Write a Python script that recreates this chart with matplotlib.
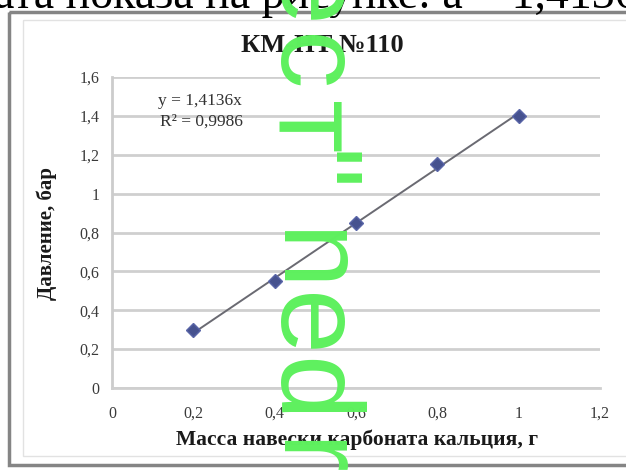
import numpy as np
import matplotlib.pyplot as plt
from matplotlib.patches import Rectangle

# values
mass = [0.2, 0.4, 0.6, 0.8, 1.0]
pressure = [0.30, 0.55, 0.85, 1.15, 1.40]

x_ticks = [0, 0.2, 0.4, 0.6, 0.8, 1.0, 1.2]
x_labels = ['0', '0,2', '0,4', '0,6', '0,8', '1', '1,2']
y_ticks = [0, 0.2, 0.4, 0.6, 0.8, 1.0, 1.2, 1.4, 1.6]
y_labels = ['0', '0,2', '0,4', '0,6', '0,8', '1', '1,2', '1,4', '1,6']

title = 'КМ-НТ №110'
x_title = 'Масса навески карбоната кальция, г'
y_title = 'Давление, бар'
eq_text = 'y = 1,4136x'
r2_text = 'R² = 0,9986'
page_text = 'ата показа на рисунке: а = 1,4136'
stamp_chars = ['е', 'с', 'т', '"', 'n', 'e', 'd', 'r']

SERIF = 'Liberation Serif'
W, H = 626, 470

fig = plt.figure(figsize=(W / 100, H / 100), dpi=100)
fig.patch.set_facecolor('white')

# background layer in pixel coords: the chart frame of the scan
bg = fig.add_axes([0, 0, 1, 1])
bg.set_xlim(0, W)
bg.set_ylim(H, 0)
bg.axis('off')
bg.add_patch(Rectangle((9, 12), 660, 453, fill=False, ec='#858585', lw=2.5))
bg.add_patch(Rectangle((23, 20), 660, 436, fill=False, ec='#e2e2e2', lw=1))
bg.text(322, 45, title, ha='center', va='center', family=SERIF,
        fontsize=19, fontweight='bold', color='#1a1a1a')
bg.text(47, 234, y_title, ha='center', va='center', rotation=90,
        family=SERIF, fontsize=15, fontweight='bold', color='#1a1a1a')
bg.text(357, 440, x_title, ha='center', va='center', family=SERIF,
        fontsize=15.5, fontweight='bold', color='#1a1a1a')

# plot area
ax = fig.add_axes([112 / W, 1 - 388 / H, (600 - 112) / W, (388 - 77) / H])
ax.set_zorder(1)
ax.set_xlim(0, 1.2)
ax.set_ylim(0, 1.6)
ax.set_xticks(x_ticks)
ax.set_xticklabels(x_labels)
ax.set_yticks(y_ticks)
ax.set_yticklabels(y_labels)
for lab in ax.get_xticklabels() + ax.get_yticklabels():
    lab.set_family(SERIF)
    lab.set_fontsize(11.5)
    lab.set_color('#3a3a3a')
ax.tick_params(axis='both', length=0)
ax.tick_params(axis='y', pad=9)
ax.tick_params(axis='x', pad=13)
ax.grid(axis='y', color='#cfcfcf', lw=2)
ax.set_axisbelow(True)
for side in ['top', 'right']:
    ax.spines[side].set_visible(False)
ax.spines['left'].set_color('#cccccc')
ax.spines['left'].set_linewidth(2)
ax.spines['bottom'].set_color('#cfcfcf')
ax.spines['bottom'].set_linewidth(2)

# linear trendline through the origin, as Excel fits it
x = np.array(mass)
y = np.array(pressure)
slope = (x * y).sum() / (x * x).sum()
ax.plot(x, slope * x, color='#6a6a72', lw=1.4, zorder=2)
ax.plot(x, y, linestyle='none', marker='D', ms=7, color='#46528f',
        mec='#5a66a8', zorder=3)

ax.text(0.112, 1.475, eq_text, family=SERIF, fontsize=12.5, color='#333333',
        va='center')
ax.text(0.118, 1.37, r2_text, family=SERIF, fontsize=12.5, color='#333333',
        va='center')

# top layer: page text above the chart and the green overlay letters
top = fig.add_axes([0, 0, 1, 1])
top.set_zorder(3)
top.patch.set_alpha(0)
top.set_xlim(0, W)
top.set_ylim(H, 0)
top.axis('off')
top.text(-6, 8, page_text, family=SERIF, fontsize=33, va='baseline',
         ha='left', color='black')

stamp_y = [-4, 63, 128, 172, 261, 325, 390, 458]
for ch, yc in zip(stamp_chars, stamp_y):
    top.text(276, yc, ch, family='Liberation Sans', fontsize=84,
             color='#5ef05e', rotation=-90, rotation_mode='anchor',
             ha='center', va='baseline')

fig.savefig('out.png', dpi=100)
